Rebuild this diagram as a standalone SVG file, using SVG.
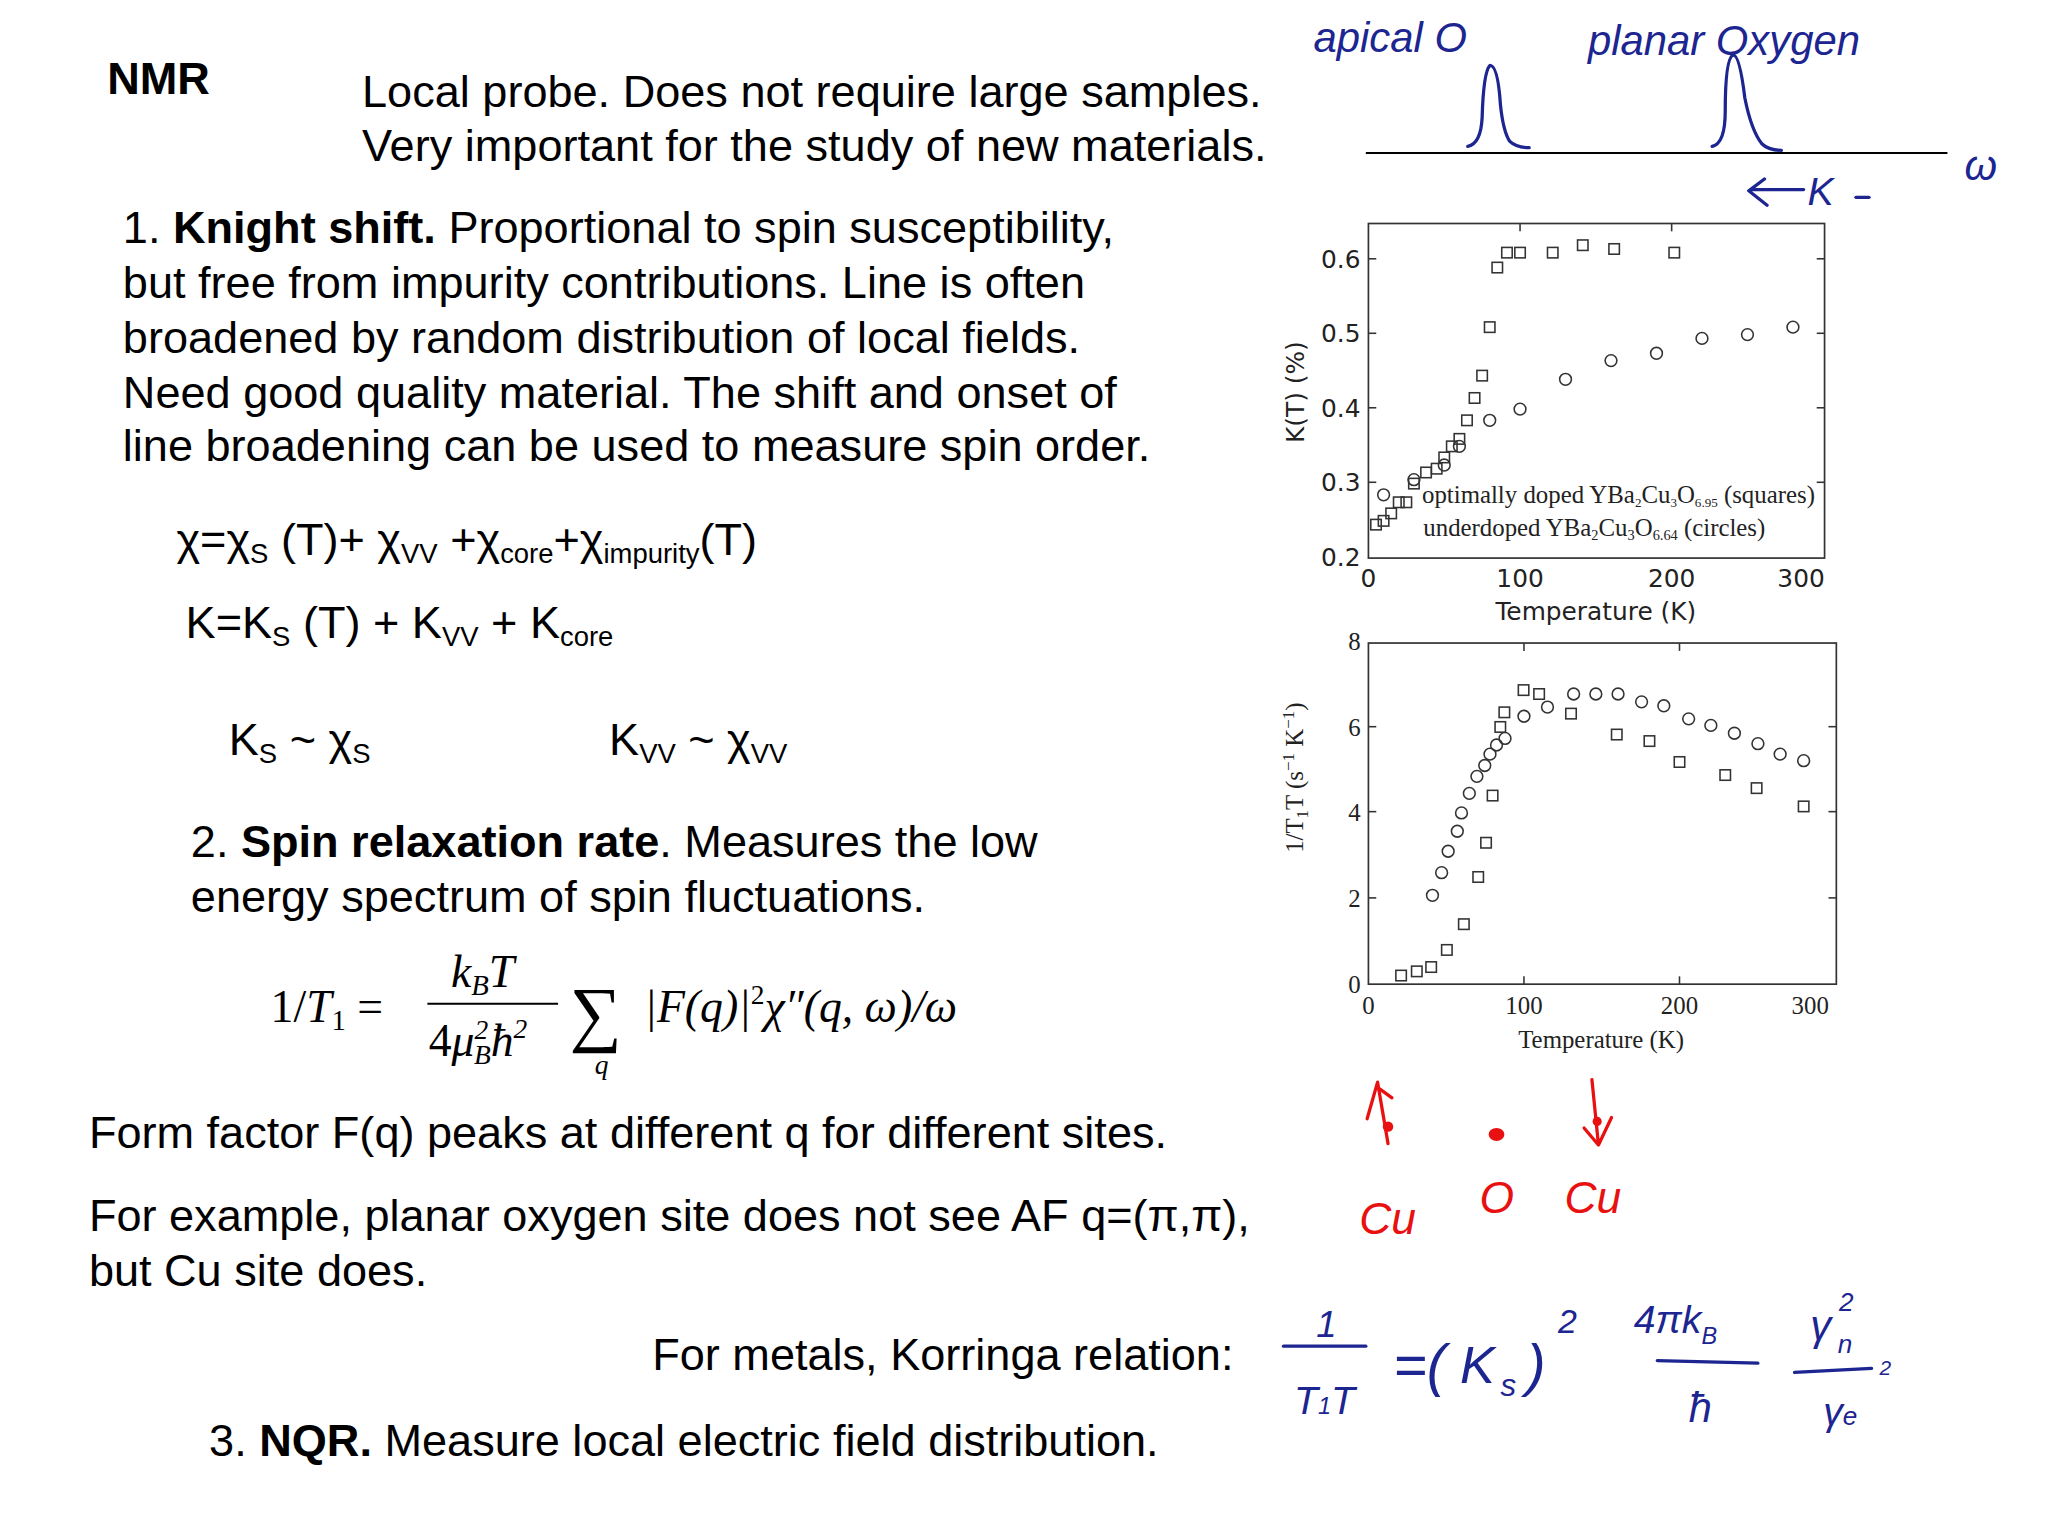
<svg xmlns="http://www.w3.org/2000/svg" xmlns:xlink="http://www.w3.org/1999/xlink" width="2048" height="1536" viewBox="0 0 2048 1536">
<style>
.t{font-family:"Liberation Sans",Arial,sans-serif;font-size:34.5px;fill:#000}
.m{font-family:"Liberation Serif","Times New Roman",serif;fill:#000}
.ax{font-family:"DejaVu Sans",sans-serif;font-size:19px;fill:#222}
.ax2{font-family:"Liberation Serif",serif;font-size:19px;fill:#222}
.hb{font-family:"Liberation Sans",sans-serif;font-style:italic;fill:#1c2590}
.hr{font-family:"Liberation Sans",sans-serif;font-style:italic;fill:#e81010}
.sq{fill:none;stroke:#333;stroke-width:1.2}
.fr{fill:none;stroke:#333;stroke-width:1.3}
.pb{fill:none;stroke:#1c2590;stroke-width:2.5;stroke-linecap:round;stroke-linejoin:round}
.pr{fill:none;stroke:#e81010;stroke-width:2.5;stroke-linecap:round;stroke-linejoin:round}
</style>
<defs>
<rect id="s" x="-4" y="-4" width="8" height="8" class="sq"/>
<circle id="c" r="4.5" class="sq"/>
</defs>
<rect width="2048" height="1536" fill="#fff"/>
<g transform="scale(1.307)">
<g id="text">
<text class="t" x="82" y="72" font-weight="bold" font-size="36">NMR</text>
<text class="t" x="277" y="82">Local probe. Does not require large samples.</text>
<text class="t" x="277" y="123">Very important for the study of new materials.</text>
<text class="t" x="94" y="186">1. <tspan font-weight="bold">Knight shift.</tspan>  Proportional to spin susceptibility,</text>
<text class="t" x="94" y="228">but free from impurity contributions. Line is often</text>
<text class="t" x="94" y="270">broadened by random distribution of local fields.</text>
<text class="t" x="94" y="312">Need good quality material. The shift and onset of</text>
<text class="t" x="94" y="353">line broadening can be used to measure spin order.</text>
<text class="t" x="135" y="425">χ=χ<tspan font-size="21" dy="6">S</tspan><tspan dy="-6"> (T)+ χ</tspan><tspan font-size="21" dy="6">VV</tspan><tspan dy="-6"> +χ</tspan><tspan font-size="21" dy="6">core</tspan><tspan dy="-6">+χ</tspan><tspan font-size="21" dy="6">impurity</tspan><tspan dy="-6">(T)</tspan></text>
<text class="t" x="142" y="488">K=K<tspan font-size="21" dy="6">S</tspan><tspan dy="-6"> (T) + K</tspan><tspan font-size="21" dy="6">VV</tspan><tspan dy="-6"> + K</tspan><tspan font-size="21" dy="6">core</tspan></text>
<text class="t" x="175" y="578">K<tspan font-size="21" dy="6">S</tspan><tspan dy="-6"> ~ χ</tspan><tspan font-size="21" dy="6">S</tspan></text>
<text class="t" x="466" y="578">K<tspan font-size="21" dy="6">VV</tspan><tspan dy="-6"> ~ χ</tspan><tspan font-size="21" dy="6">VV</tspan></text>
<text class="t" x="146" y="656">2. <tspan font-weight="bold">Spin relaxation rate</tspan>. Measures the low</text>
<text class="t" x="146" y="698">energy spectrum of spin fluctuations.</text>
<text class="m" x="207" y="782" font-size="35">1/<tspan font-style="italic">T</tspan><tspan font-size="22" dy="6">1</tspan><tspan dy="-6"> =</tspan></text>
<text class="m" x="345" y="755" font-size="35" font-style="italic">k<tspan font-size="22" dy="6">B</tspan><tspan dy="-6">T</tspan></text>
<line x1="327" y1="768" x2="427" y2="768" stroke="#000" stroke-width="1.6"/>
<text class="m" x="328" y="808" font-size="35" font-style="italic"><tspan font-style="normal">4</tspan>μ<tspan font-size="21" dy="-13">2</tspan><tspan font-size="21" dx="-11" dy="19">B</tspan><tspan dy="-6">ħ</tspan><tspan font-size="21" dy="-14">2</tspan></text>
<text class="m" x="436" y="794" font-size="56">∑</text>
<text class="m" x="455" y="822" font-size="21" font-style="italic">q</text>
<text class="m" x="493" y="782" font-size="35" font-style="italic">|F(q)|<tspan font-style="normal" font-size="21" dy="-14">2</tspan><tspan dy="14">χ″(q, ω)/ω</tspan></text>
<text class="t" x="68" y="878">Form factor F(q) peaks at different q for different sites.</text>
<text class="t" x="68" y="942">For example, planar oxygen site does not see AF q=(π,π),</text>
<text class="t" x="68" y="984">but Cu site does.</text>
<text class="t" x="499" y="1048">For metals, Korringa relation:</text>
<text class="t" x="160" y="1114">3. <tspan font-weight="bold">NQR.</tspan> Measure local electric field distribution.</text>
</g>
<g id="sketch-top">
<text class="hb" x="1005" y="40" font-size="32">apical O</text>
<text class="hb" x="1215" y="42" font-size="32">planar Oxygen</text>
<line x1="1045" y1="117" x2="1490" y2="117" stroke="#000" stroke-width="1.5"/>
<path class="pb" d="M1123 112 Q1133 110 1134 90 Q1135 55 1140 50 Q1146 50 1148 80 Q1150 100 1155 108 Q1160 113 1170 113"/>
<path class="pb" d="M1310 112 Q1320 110 1320 85 Q1320 45 1326 42 Q1331 42 1335 75 Q1340 100 1348 110 Q1353 115 1363 115"/>
<text class="hb" x="1503" y="138" font-size="32">ω</text>
<path class="pb" d="M1340 145 L1380 145 M1350 137 L1338 146 L1352 157"/>
<text class="hb" x="1383" y="157" font-size="30">K</text>
<line class="pb" x1="1420" y1="151" x2="1430" y2="151"/>
</g>
<g id="plot1">
<rect class="fr" x="1047" y="171" width="349" height="256"/>
<g stroke="#333" stroke-width="1.2">
<line x1="1163" y1="171" x2="1163" y2="177"/><line x1="1279" y1="171" x2="1279" y2="177"/>
<line x1="1047" y1="198" x2="1053" y2="198"/><line x1="1047" y1="255" x2="1053" y2="255"/><line x1="1047" y1="312" x2="1053" y2="312"/><line x1="1047" y1="369" x2="1053" y2="369"/>
<line x1="1390" y1="198" x2="1396" y2="198"/><line x1="1390" y1="255" x2="1396" y2="255"/><line x1="1390" y1="312" x2="1396" y2="312"/><line x1="1390" y1="369" x2="1396" y2="369"/>
</g>
<text class="ax" x="1041" y="205" text-anchor="end">0.6</text>
<text class="ax" x="1041" y="262" text-anchor="end">0.5</text>
<text class="ax" x="1041" y="319" text-anchor="end">0.4</text>
<text class="ax" x="1041" y="376" text-anchor="end">0.3</text>
<text class="ax" x="1041" y="433" text-anchor="end">0.2</text>
<text class="ax" x="1047" y="449" text-anchor="middle">0</text>
<text class="ax" x="1163" y="449" text-anchor="middle">100</text>
<text class="ax" x="1279" y="449" text-anchor="middle">200</text>
<text class="ax" x="1378" y="449" text-anchor="middle">300</text>
<text class="ax" x="1221" y="474" text-anchor="middle">Temperature (K)</text>
<text class="ax" transform="translate(998,300) rotate(-90)" text-anchor="middle" font-size="18">K(T) (%)</text>
<text class="ax2" x="1088" y="385" font-size="15">optimally  doped  YBa<tspan font-size="10" dy="3">2</tspan><tspan dy="-3">Cu</tspan><tspan font-size="10" dy="3">3</tspan><tspan dy="-3">O</tspan><tspan font-size="10" dy="3">6.95</tspan><tspan dy="-3">  (squares)</tspan></text>
<text class="ax2" x="1089" y="410" font-size="16">underdoped YBa<tspan font-size="11" dy="3">2</tspan><tspan dy="-3">Cu</tspan><tspan font-size="11" dy="3">3</tspan><tspan dy="-3">O</tspan><tspan font-size="11" dy="3">6.64</tspan><tspan dy="-3"> (circles)</tspan></text>
<g>
<use href="#s" x="1052.8" y="401.4"/><use href="#s" x="1058.6" y="398.5"/><use href="#s" x="1064.4" y="392.8"/><use href="#s" x="1070.2" y="384.3"/><use href="#s" x="1076" y="384.3"/><use href="#s" x="1081.8" y="370"/><use href="#s" x="1091.1" y="361.5"/><use href="#s" x="1099.2" y="358.6"/><use href="#s" x="1105" y="350"/><use href="#s" x="1110.8" y="341.5"/><use href="#s" x="1116.6" y="335.8"/><use href="#s" x="1122.4" y="321.6"/><use href="#s" x="1128.2" y="304.5"/><use href="#s" x="1134" y="287.4"/><use href="#s" x="1139.8" y="250.3"/><use href="#s" x="1145.6" y="204.7"/><use href="#s" x="1153" y="193.3"/><use href="#s" x="1163" y="193.3"/><use href="#s" x="1188" y="193.3"/><use href="#s" x="1211" y="187.6"/><use href="#s" x="1235" y="190.5"/><use href="#s" x="1281" y="193.3"/>
<use href="#c" x="1058.6" y="378.6"/><use href="#c" x="1081.8" y="367"/><use href="#c" x="1105" y="355.8"/><use href="#c" x="1116.6" y="341.5"/><use href="#c" x="1139.8" y="321.6"/><use href="#c" x="1163" y="313"/><use href="#c" x="1197.8" y="290.2"/><use href="#c" x="1232.6" y="275.9"/><use href="#c" x="1267.4" y="270.3"/><use href="#c" x="1302.2" y="258.9"/><use href="#c" x="1337" y="256"/><use href="#c" x="1371.8" y="250.3"/>
</g>
</g>
<g id="plot2">
<rect class="fr" x="1047" y="492" width="358" height="261"/>
<g stroke="#333" stroke-width="1.2">
<line x1="1166" y1="492" x2="1166" y2="498"/><line x1="1285" y1="492" x2="1285" y2="498"/>
<line x1="1166" y1="753" x2="1166" y2="747"/><line x1="1285" y1="753" x2="1285" y2="747"/>
<line x1="1047" y1="556" x2="1053" y2="556"/><line x1="1047" y1="621" x2="1053" y2="621"/><line x1="1047" y1="687" x2="1053" y2="687"/>
<line x1="1399" y1="556" x2="1405" y2="556"/><line x1="1399" y1="621" x2="1405" y2="621"/><line x1="1399" y1="687" x2="1405" y2="687"/>
</g>
<text class="ax2" x="1041" y="497" text-anchor="end">8</text>
<text class="ax2" x="1041" y="563" text-anchor="end">6</text>
<text class="ax2" x="1041" y="628" text-anchor="end">4</text>
<text class="ax2" x="1041" y="694" text-anchor="end">2</text>
<text class="ax2" x="1041" y="760" text-anchor="end">0</text>
<text class="ax2" x="1047" y="776" text-anchor="middle">0</text>
<text class="ax2" x="1166" y="776" text-anchor="middle">100</text>
<text class="ax2" x="1285" y="776" text-anchor="middle">200</text>
<text class="ax2" x="1385" y="776" text-anchor="middle">300</text>
<text class="ax2" x="1225" y="802" text-anchor="middle">Temperature (K)</text>
<text class="ax2" transform="translate(997,595) rotate(-90)" text-anchor="middle">1/T<tspan font-size="13" dy="4">1</tspan><tspan dy="-4">T (s</tspan><tspan font-size="13" dy="-7">−1</tspan><tspan dy="7"> K</tspan><tspan font-size="13" dy="-7">−1</tspan><tspan dy="7">)</tspan></text>
<g>
<use href="#s" x="1072" y="746.4"/><use href="#s" x="1084" y="743.2"/><use href="#s" x="1095" y="739.9"/><use href="#s" x="1107" y="726.8"/><use href="#s" x="1120" y="707.1"/><use href="#s" x="1131" y="671"/><use href="#s" x="1137" y="644.8"/><use href="#s" x="1142" y="608.7"/><use href="#s" x="1147.9" y="556.2"/><use href="#s" x="1151" y="545"/><use href="#s" x="1165.7" y="528"/><use href="#s" x="1177.6" y="531"/><use href="#s" x="1202" y="546"/><use href="#s" x="1237" y="562"/><use href="#s" x="1262" y="567"/><use href="#s" x="1285" y="583"/><use href="#s" x="1320" y="593"/><use href="#s" x="1344" y="603"/><use href="#s" x="1380" y="617"/>
<use href="#c" x="1096" y="685"/><use href="#c" x="1103" y="667.7"/><use href="#c" x="1108" y="651.3"/><use href="#c" x="1115" y="636"/><use href="#c" x="1118.2" y="622"/><use href="#c" x="1124.2" y="607"/><use href="#c" x="1130" y="594"/><use href="#c" x="1136" y="585.7"/><use href="#c" x="1140" y="577"/><use href="#c" x="1145" y="570"/><use href="#c" x="1151.5" y="565"/><use href="#c" x="1166" y="548"/><use href="#c" x="1184" y="541"/><use href="#c" x="1204" y="531"/><use href="#c" x="1221" y="531"/><use href="#c" x="1238" y="531"/><use href="#c" x="1256" y="537"/><use href="#c" x="1273" y="540"/><use href="#c" x="1292" y="550"/><use href="#c" x="1309" y="555"/><use href="#c" x="1327" y="561"/><use href="#c" x="1345" y="569"/><use href="#c" x="1362" y="577"/><use href="#c" x="1380" y="582"/>
</g>
</g>
<g id="sketch-red">
<path class="pr" d="M1062 875 L1054 828 L1046 856 M1054 832 L1065 840"/>
<circle cx="1062" cy="862" r="4" fill="#e81010"/>
<ellipse cx="1145" cy="868" rx="6" ry="5" fill="#e81010"/>
<path class="pr" d="M1218 826 L1223 876 M1212 863 L1223 876 L1233 855"/>
<circle cx="1222" cy="858" r="3.5" fill="#e81010"/>
<text class="hr" x="1040" y="944" font-size="34">Cu</text>
<text class="hr" x="1132" y="928" font-size="34">O</text>
<text class="hr" x="1197" y="928" font-size="34">Cu</text>
</g>
<g id="sketch-eq">
<text class="hb" x="1007" y="1023" font-size="28">1</text>
<line class="pb" x1="982" y1="1030" x2="1045" y2="1030"/>
<text class="hb" x="990" y="1082" font-size="30">T<tspan font-size="18">1</tspan>T</text>
<text class="hb" x="1066" y="1060" font-size="44">=(</text>
<text class="hb" x="1117" y="1058" font-size="40">K</text>
<text class="hb" x="1148" y="1068" font-size="24">s</text>
<text class="hb" x="1168" y="1060" font-size="44">)</text>
<text class="hb" x="1192" y="1020" font-size="26">2</text>
<text class="hb" x="1250" y="1020" font-size="30">4πk<tspan font-size="18" dy="8">B</tspan></text>
<line class="pb" x1="1268" y1="1041" x2="1345" y2="1043"/>
<text class="hb" x="1292" y="1088" font-size="32">ħ</text>
<text class="hb" x="1385" y="1025" font-size="32">γ</text>
<text class="hb" x="1407" y="1003" font-size="20">2</text>
<text class="hb" x="1406" y="1035" font-size="20">n</text>
<line class="pb" x1="1373" y1="1050" x2="1432" y2="1047"/>
<text class="hb" x="1438" y="1052" font-size="16">2</text>
<text class="hb" x="1395" y="1090" font-size="30">γ<tspan font-size="20">e</tspan></text>
</g>
</g>
</svg>
